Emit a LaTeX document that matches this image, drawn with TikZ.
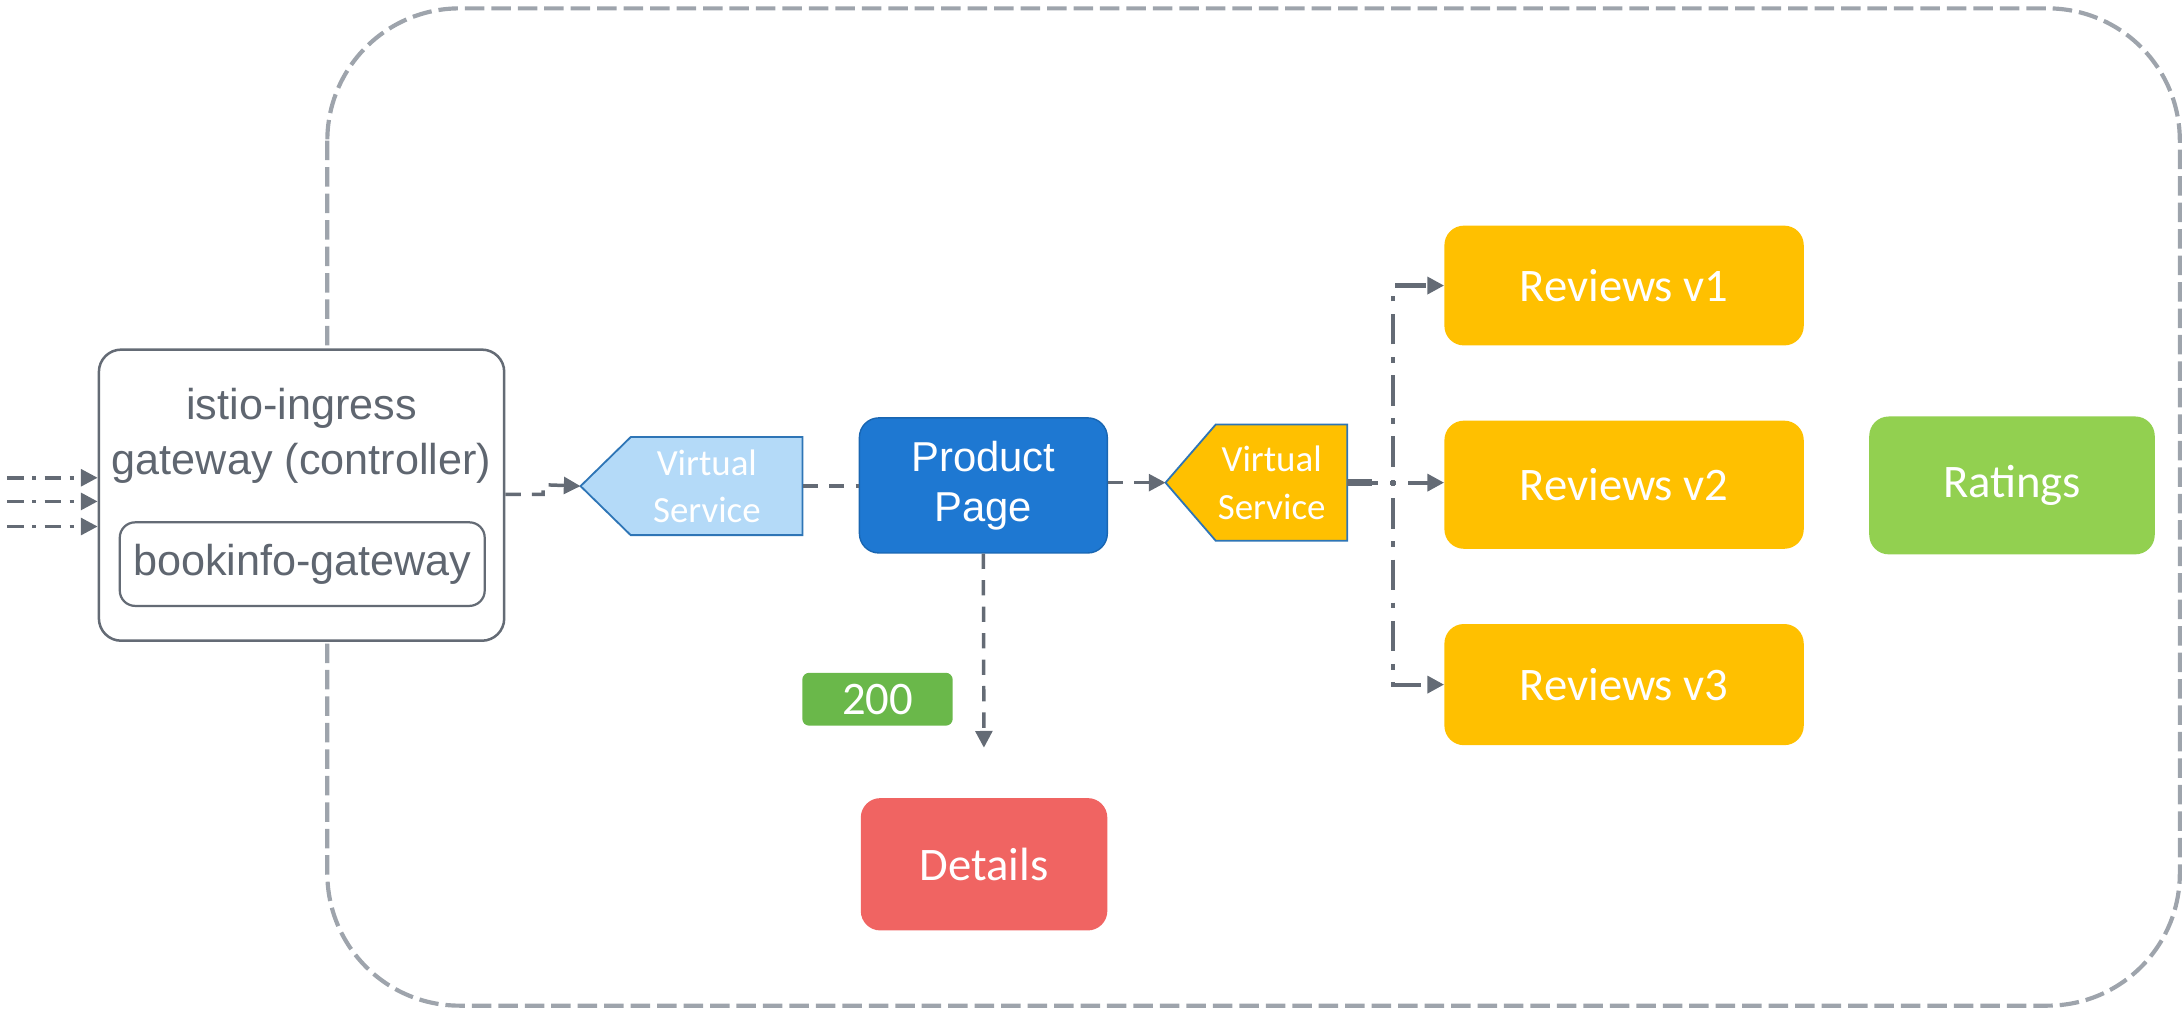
\documentclass[tikz,border=0pt]{standalone}
\usepackage{fontspec}
\setmainfont{Carlito}
\newfontfamily\arialf{Liberation Sans}
\usetikzlibrary{arrows.meta}
\definecolor{conn}{HTML}{646B75}
\definecolor{outer}{HTML}{9EA4AC}
\definecolor{gwtext}{HTML}{5F6670}
\definecolor{vsblue}{HTML}{B4DAF8}
\definecolor{vsedge}{HTML}{2E75B6}
\definecolor{ppblue}{HTML}{1E78D2}
\definecolor{revyel}{HTML}{FFC000}
\definecolor{ratgreen}{HTML}{92D050}
\definecolor{detred}{HTML}{F06462}
\definecolor{okgreen}{HTML}{6AB84A}
\tikzset{
  conn/.style={draw=conn, line width=2.5pt, dash pattern=on 11pt off 8pt, -{Triangle[length=12pt,width=12pt]}},
  conndd/.style={draw=conn, line width=2.5pt, dash pattern=on 12pt off 6pt on 3pt off 6pt, -{Triangle[length=12pt,width=12pt]}},
  spine/.style={draw=conn, line width=3pt, dash pattern=on 22pt off 9pt on 4pt off 9pt, -{Triangle[length=12pt,width=12pt]}},
  svc/.style={rounded corners=14pt, text=white, font=\fontsize{33.5}{40}\selectfont, inner sep=0pt},
  vsbody/.style={inner sep=0pt},
  vstext/.style={text=white, align=center, font=\fontsize{26.5}{34}\selectfont},
  gwbox/.style={draw=conn, line width=1.8pt, rounded corners=16pt, fill=white, inner sep=0pt},
}
\begin{document}
\begin{tikzpicture}[x=1pt,y=-1pt]
\useasboundingbox (0,0) rectangle (1568,729);
% outer cluster
\draw[outer, line width=3pt, dash pattern=on 14pt off 5pt, rounded corners=95pt] (235,6) rectangle (1565,722);

% gateway
\node[gwbox, minimum width=291pt, minimum height=209pt] (gw) at (216.5,355.5) {};
\node[gwbox, line width=1.6pt, rounded corners=11pt, minimum width=262pt, minimum height=60pt] (bg) at (217,405) {};
\node[text=gwtext, font=\arialf\fontsize{31}{39}\selectfont, align=center] (gwlabel) at (216.5,313) {istio-ingress\\gateway (controller)};
\node[text=gwtext, font=\arialf\fontsize{31}{35}\selectfont] (bglabel) at (217,405) {bookinfo-gateway};

% incoming
\coordinate (in1) at (5,343);
\coordinate (in2) at (5,360);
\coordinate (in3) at (5,378);
\draw[conndd] (in1) -- (gw.west |- in1);
\draw[conndd] (in2) -- (gw.west |- in2);
\draw[conndd] (in3) -- (gw.west |- in3);

% virtual service 1
\node[vsbody, minimum width=123pt, minimum height=70pt] (vs1) at (514.5,349) {};
\coordinate (vs1tip) at ([xshift=-36pt]vs1.west);
\draw[draw=vsedge, fill=vsblue, line width=1.3pt] (vs1.north west) -- (vs1.north east) -- (vs1.south east) -- (vs1.south west) -- (vs1tip) -- cycle;
\node[vstext] (vs1t) at ([xshift=-7pt]vs1.center) {Virtual\\Service};

% product page
\node[svc, fill=ppblue, draw=ppblue!85!black, line width=1pt, minimum width=178pt, minimum height=97pt, align=center, font=\arialf\fontsize{30}{36}\selectfont] (pp) at (706,348.5) {Product\\Page};

% virtual service 2
\node[vsbody, minimum width=94pt, minimum height=83pt] (vs2) at (920,346.5) {};
\coordinate (vs2tip) at ([xshift=-36pt]vs2.west);
\draw[draw=vsedge, fill=revyel, line width=1.3pt] (vs2.north west) -- (vs2.north east) -- (vs2.south east) -- (vs2.south west) -- (vs2tip) -- cycle;
\node[vstext] (vs2t) at ([xshift=-7pt]vs2.center) {Virtual\\Service};

% reviews, ratings, details
\node[svc, fill=revyel, minimum width=258pt, minimum height=86pt] (r1) at (1166,205) {Reviews v1};
\node[svc, fill=revyel, minimum width=258pt, minimum height=92pt] (r2) at (1166,348) {Reviews v2};
\node[svc, fill=revyel, minimum width=258pt, minimum height=87pt] (r3) at (1166,491.5) {Reviews v3};
\node[svc, fill=ratgreen, minimum width=205pt, minimum height=99pt] (rat) at (1444.5,348.5) {Ratings};
\node[svc, fill=detred, minimum width=177pt, minimum height=95pt] (det) at (706.5,620.5) {Details};
\node[svc, fill=okgreen, rounded corners=5pt, minimum width=108pt, minimum height=38pt] (ok) at (630,502) {200};

% connectors
\draw[conn] (gw.east |- 0,355) -- (390,355) -- (390,348) -- (vs1tip);
\draw[conn, -] (vs1.east) -- (pp.west |- vs1.east);
\draw[conn] (pp.east |- vs2tip) -- (vs2tip);
\draw[conn, shorten >=36pt] (pp.south) -- (det.north);
\draw[conn, -, line width=5pt, dash pattern=] (vs2.east) -- ++(18,0);
\draw[spine] (vs2.east) -- (1000,346.5) |- (r1.west);
\draw[spine] (vs2.east) -- (1000,346.5) |- (r3.west);
\draw[spine] (vs2.east) -- (r2.west |- vs2.east);
\end{tikzpicture}
\end{document}
